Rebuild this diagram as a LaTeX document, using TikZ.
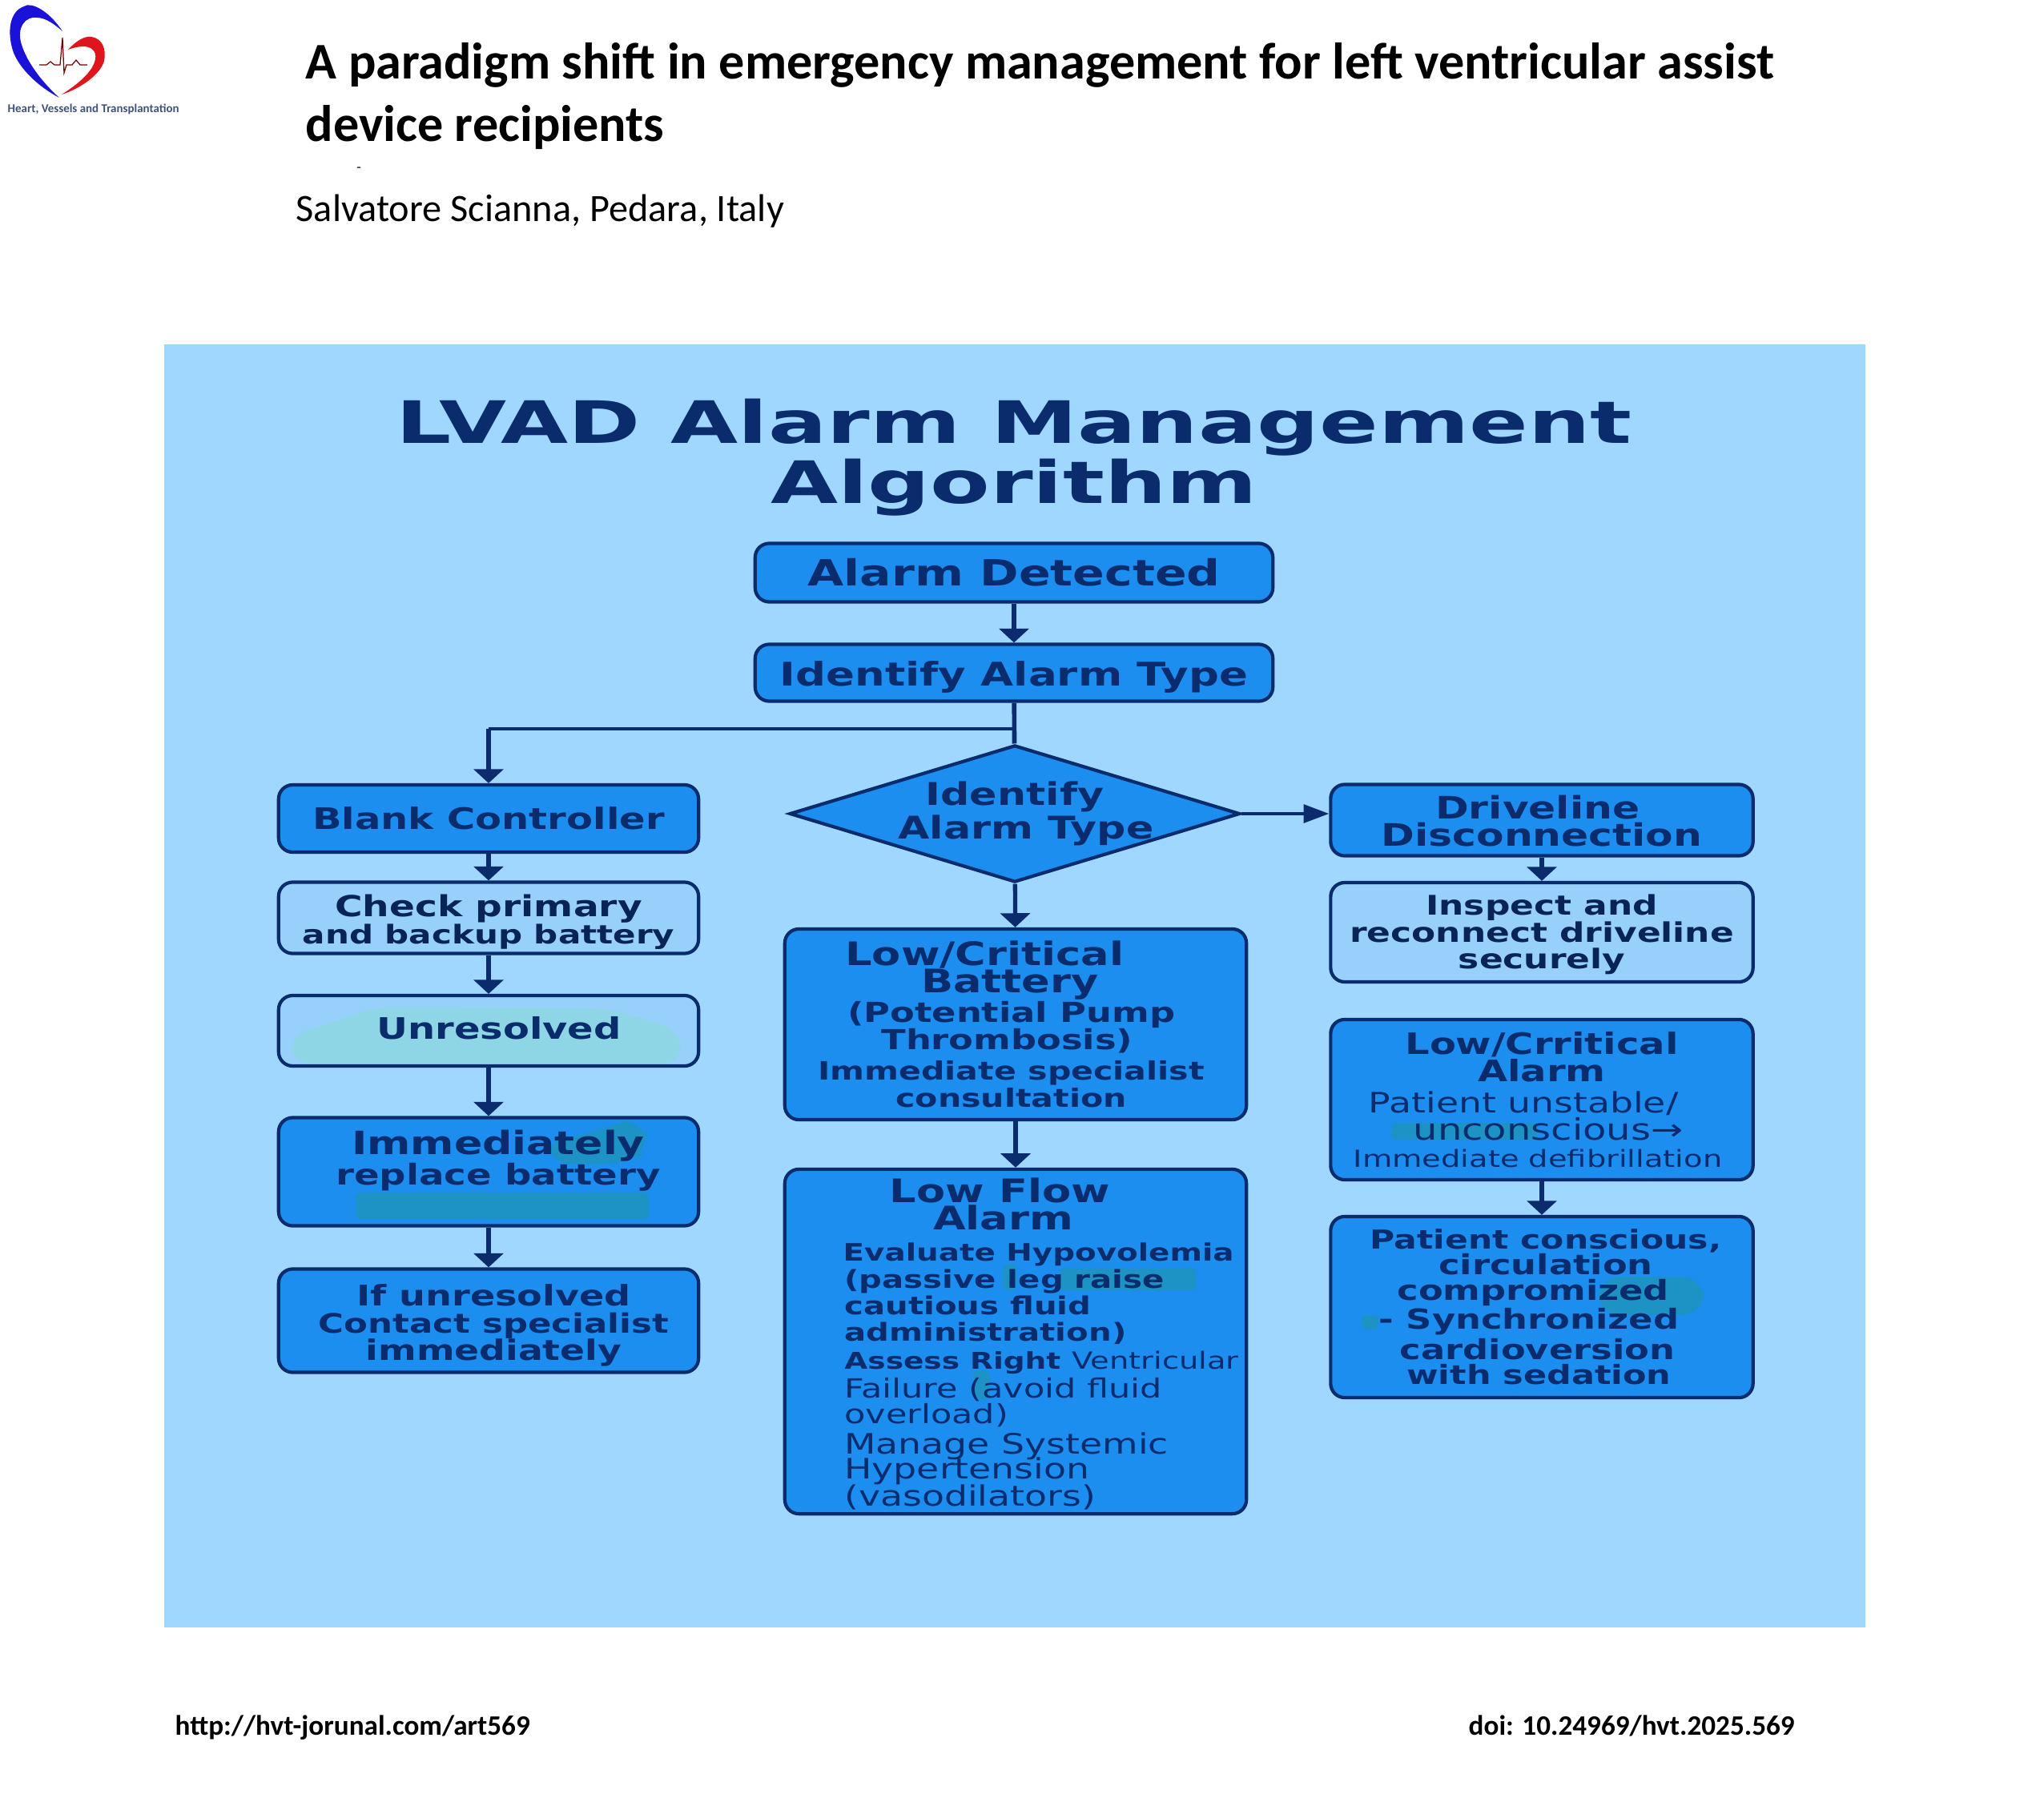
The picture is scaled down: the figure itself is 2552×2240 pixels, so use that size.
\documentclass[tikz,border=0pt]{standalone}
\usepackage{fontspec}
\setmainfont{Carlito}
\newfontfamily\lvadfont[FakeStretch=1.3]{DejaVu Sans}
\newfontfamily\headfont[FakeStretch=1.49]{DejaVu Sans}
\usetikzlibrary{arrows.meta, shapes.geometric, positioning}
\definecolor{panelblue}{HTML}{A0D7FF}
\definecolor{boxblue}{HTML}{1C8EF0}
\definecolor{lightblue}{HTML}{97D0FA}
\definecolor{navy}{HTML}{0A2C6C}
\definecolor{tealblob}{HTML}{1D92C4}
\definecolor{paleblob}{HTML}{8ED5E6}
\definecolor{logoblue}{HTML}{1A12D8}
\definecolor{logored}{HTML}{E0141C}
\tikzset{
  darkbox/.style={draw=navy, line width=1.2pt, fill=boxblue, rounded corners=5pt, text=navy, align=center, inner sep=0pt, font=\lvadfont\bfseries\fontsize{9.2}{9.7}\selectfont},
  lightbox/.style={darkbox, fill=lightblue, text=navy!80!black},
  boxtext/.style={text=navy, align=center, inner sep=0pt, font=\lvadfont\bfseries\fontsize{10.5}{9.7}\selectfont},
  leftbox/.style={minimum width=5.24cm},
  midbox/.style={minimum width=5.76cm},
  rightbox/.style={minimum width=5.27cm},
  flow/.style={draw=navy, line width=1.5pt, -{Triangle[length=5pt,width=10.5pt]}},
  plain/.style={font=\bfseries\fontsize{13}{15}\selectfont, inner sep=0pt},
  blobdark/.style={fill=tealblob, draw=none, rounded corners=2pt},
  blobpale/.style={fill=paleblob, draw=none, rounded corners=6pt}
}
\newcommand{\szline}[2]{{\fontsize{#1}{9.7}\selectfont #2}}
\newcommand{\rgline}[2]{{\normalfont\lvadfont\fontsize{#1}{9.7}\selectfont #2}}
\newcommand{\pushdown}[1]{\rule{0pt}{#1}}
\begin{document}
\begin{tikzpicture}[x=0.01cm, y=-0.01cm]
\useasboundingbox (0,0) rectangle (2552,2240);
% logo
\fill[logoblue] (78,39) .. controls (60,12) and (38,2) .. (30,8) .. controls (12,14) and (8,40) .. (17,66) .. controls (28,92) and (55,112) .. (74,122) .. controls (52,102) and (34,78) .. (27,56) .. controls (20,34) and (32,20) .. (46,22) .. controls (58,22) and (70,32) .. (78,39) -- cycle;
\fill[logored] (85,62) .. controls (96,50) and (106,45) .. (114,46) .. controls (128,48) and (133,62) .. (130,76) .. controls (126,92) and (102,110) .. (77,118) .. controls (96,106) and (116,90) .. (119,74) .. controls (121,64) and (114,58) .. (104,58) .. controls (98,58) and (90,60) .. (85,62) -- cycle;
\draw[red!45!black, line width=0.35pt] (49,81) -- (58,81) -- (63,77) -- (68,81) -- (75,81) -- (78,47) -- (80,91) -- (83,81) -- (90,81) -- (95,75) -- (100,81) -- (109,81);
\node[font=\bfseries\fontsize{4.25}{5}\selectfont, text=navy!55!gray, inner sep=0pt, anchor=west] (logotext) at (9,136) {Heart, Vessels and Transplantation};
% header
\node[plain, font=\bfseries\fontsize{18.26}{22.2}\selectfont, align=left, anchor=north west] (papertitle) at (381,53) {A paradigm shift in emergency management for left ventricular assist\\device recipients};
\node[font=\fontsize{5}{6}\selectfont, inner sep=0pt] (dash) at (448,212) {-};
\node[font=\fontsize{13.75}{16}\selectfont, inner sep=0pt, anchor=west] (author) at (369,264) {Salvatore Scianna, Pedara, Italy};
% panel
\fill[panelblue] (205,430) rectangle (2329,2032);
\node[align=center, text=navy, inner sep=0pt, font=\headfont\bfseries\fontsize{20.75}{21.5}\selectfont] (paneltitle) at (1266,571) {LVAD Alarm Management\\Algorithm};
% top of the chart
\node[darkbox, minimum width=6.46cm, minimum height=0.73cm, font=\lvadfont\bfseries\fontsize{12.8}{13}\selectfont] (detected) at (1266,715) {Alarm Detected};
\node[darkbox, minimum width=6.46cm, minimum height=0.71cm, font=\lvadfont\bfseries\fontsize{11.6}{13}\selectfont] (identify) at (1266,840) {\pushdown{12pt}Identify Alarm Type};
\node[darkbox, shape=diamond, aspect=3.29, rounded corners=0pt, inner sep=-3pt, minimum width=5.62cm, minimum height=1.71cm, font=\lvadfont\bfseries\fontsize{11.1}{10.6}\selectfont] (decision) at (1267,1016) {Identify\\\hspace*{8pt}Alarm Type};
\coordinate (branch) at (1267,910);
\coordinate (bend) at (branch -| 610,0);
% left column
\node[darkbox, leftbox, minimum height=0.84cm, font=\lvadfont\bfseries\fontsize{10.5}{11}\selectfont] (blank) at (610,1022) {Blank Controller};
\node[lightbox, leftbox, minimum height=0.89cm] (check) at (610,1146) {\pushdown{11pt}\szline{10.3}{Check primary}\\and backup battery};
\node[lightbox, leftbox, minimum height=0.88cm] (unresolvedbg) at (610,1287) {};
\fill[blobpale] (364,1328) -- (364,1292) -- (420,1275) -- (470,1257) -- (760,1259) -- (849,1287) -- (849,1328) -- cycle;
\node[boxtext] (unresolved) at (623,1284) {Unresolved};
\node[darkbox, leftbox, minimum height=1.35cm] (replacebg) at (610,1463) {};
\fill[blobdark, rounded corners=8pt] (684,1453) -- (684,1419) -- (740,1419) -- (760,1400) -- (805,1400) -- (810,1433) -- (790,1453) -- cycle;
\fill[blobdark] (444,1489) rectangle (810,1522);
\node[boxtext] (replace) at (622,1449) {\szline{11.4}{Immediately}\\[-0.5pt]\szline{10.2}{replace battery}};
\node[darkbox, leftbox, minimum height=1.29cm, font=\lvadfont\bfseries\fontsize{9.5}{9.7}\selectfont] (contact) at (610,1649) {\pushdown{11pt}\hspace*{3.7pt}\szline{10.1}{If unresolved}\\\hspace*{3.7pt}Contact specialist\\\hspace*{3.7pt}\szline{10}{immediately}};
% middle column
\node[darkbox, midbox, minimum height=2.38cm] (battery) at (1268,1279) {\hspace*{-22pt}\szline{11.5}{Low/Critical}\\\hspace*{-4pt}\szline{11.5}{Battery}\\[-0.5pt]\hspace*{-3pt}\szline{9.8}{(Potential Pump}\\\hspace*{-6pt}\szline{9.8}{Thrombosis)}\\[1.3pt]\hspace*{-3pt}\szline{9}{Immediate specialist}\\\hspace*{-3pt}\szline{9}{consultation}};
\node[darkbox, midbox, minimum height=4.30cm] (lowflowbg) at (1268,1675) {};
\fill[blobdark] (1252,1578) rectangle (1269,1611);
\fill[blobdark] (1323,1583) rectangle (1493,1611);
\fill[blobdark] (1215,1711) rectangle (1236,1747);
\node[boxtext, align=left, anchor=north west, font=\lvadfont\bfseries\fontsize{8.8}{9.7}\selectfont] (lowflow) at (1110,1470) {\szline{11.5}{Low Flow}\\\hspace*{15.5pt}\szline{11.5}{Alarm}\\[1.4pt]
  \hspace*{-16.5pt}\szline{8.5}{Evaluate Hypovolemia}\\
  \hspace*{-16pt}(passive leg raise\\[-0.4pt]
  \hspace*{-16pt}cautious fluid\\[-0.4pt]
  \hspace*{-16pt}administration)\\[0.4pt]
  \hspace*{-16pt}\szline{8.2}{Assess Right} \rgline{8.4}{Ventricular}\\[0.4pt]
  \hspace*{-16pt}\rgline{9.4}{Failure (avoid fluid}\\[-0.4pt]
  \hspace*{-16pt}\rgline{9.4}{overload)}\\[1pt]
  \hspace*{-16pt}\rgline{10}{Manage Systemic}\\[-1pt]
  \hspace*{-16pt}\rgline{10}{Hypertension}\\
  \hspace*{-16pt}\rgline{10}{(vasodilators)}};
% right column
\node[darkbox, rightbox, minimum height=0.89cm, font=\lvadfont\bfseries\fontsize{11}{9.7}\selectfont] (driveline) at (1925,1024) {\hspace*{-3pt}\pushdown{9pt}Driveline\\Disconnection};
\node[lightbox, rightbox, minimum height=1.24cm, font=\lvadfont\bfseries\fontsize{9.6}{9.6}\selectfont] (inspect) at (1925,1164) {\pushdown{9pt}Inspect and\\reconnect driveline\\securely};
\node[darkbox, rightbox, minimum height=2.00cm] (crriticalbg) at (1925,1373) {};
\fill[blobdark] (1737,1402) rectangle (1920,1423);
\node[boxtext, font=\lvadfont\bfseries\fontsize{10.5}{9.7}\selectfont] (crritical) at (1925,1373) {Low/Crritical\\Alarm\\[1.4pt]\hspace*{-13pt}\rgline{10}{Patient unstable/}\\\hspace*{4.6pt}\rgline{10.5}{unconscious→}\\\hspace*{-2.8pt}\rgline{8.4}{Immediate defibrillation}};
\node[darkbox, rightbox, minimum height=2.26cm] (consciousbg) at (1925,1632) {};
\fill[blobdark, rounded corners=8pt] (1995,1594) rectangle (2127,1642);
\fill[blobdark] (1700,1642) rectangle (1721,1660);
\node[boxtext, font=\lvadfont\bfseries\fontsize{9.8}{9}\selectfont] (conscious) at (1930,1632) {\szline{9.3}{Patient conscious,}\\circulation\\\hspace*{-9pt}compromized\\\hspace*{-12pt}- Synchronized\\\hspace*{-6pt}cardioversion\\\hspace*{-5pt}\szline{9.4}{with sedation}};
% arrows
\draw[flow] (detected) -- (identify);
\draw[navy, line width=1.6pt] (identify) -- (decision);
\draw[navy, line width=1pt] (branch) -- (bend);
\draw[flow] (bend) -- (blank.north);
\draw[flow, line width=1pt, -{Triangle[length=9pt,width=6.5pt]}] (decision.east) -- (decision.east -| driveline.west);
\draw[flow] (decision) -- (battery);
\draw[flow] (battery) -- (lowflowbg);
\draw[flow] (blank) -- (check);
\draw[flow] (check) -- (unresolvedbg);
\draw[flow] (unresolvedbg) -- (replacebg);
\draw[flow] (replacebg) -- (contact);
\draw[flow] (driveline) -- (inspect);
\draw[flow] (crriticalbg) -- (consciousbg);
% footer
\node[plain, anchor=west, font=\bfseries\fontsize{10}{12}\selectfont] (url) at (218,2157) {http://hvt-jorunal.com/art569};
\node[plain, anchor=west, font=\bfseries\fontsize{10}{12}\selectfont] (doi) at (1833,2155) {doi: 10.24969/hvt.2025.569};
\end{tikzpicture}
\end{document}
